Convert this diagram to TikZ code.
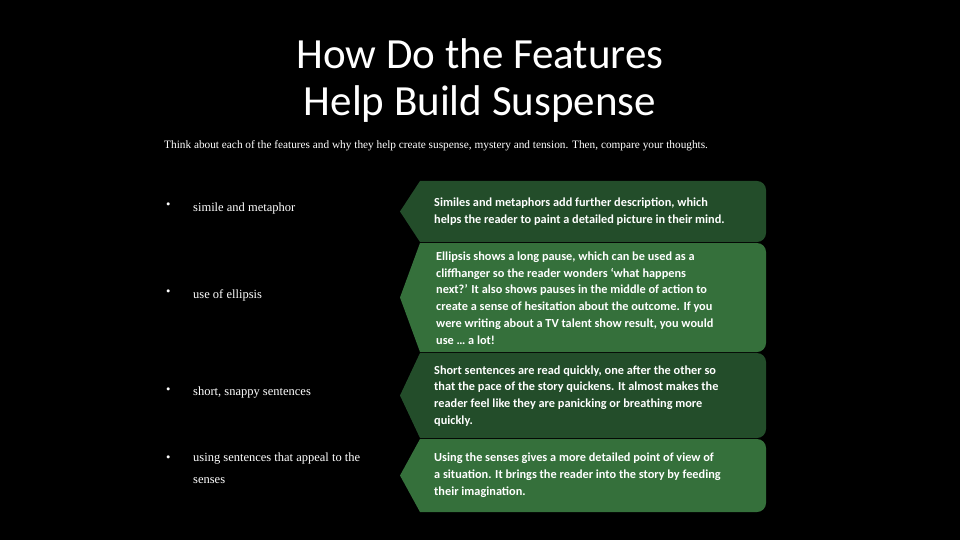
\documentclass[tikz,border=0pt]{standalone}
\usepackage{fontspec}
\setmainfont{Carlito}
\newfontfamily\serifx{Liberation Serif}
\definecolor{dg}{HTML}{234D2A}
\definecolor{lg}{HTML}{35703B}
\begin{document}
\begin{tikzpicture}[x=1pt,y=-1pt,
  boxtext/.style={anchor=west,align=left,text=white,font=\bfseries\fontsize{12.3}{16.8}\selectfont,inner sep=0pt},
  bul/.style={anchor=west,text=white,font=\serifx\fontsize{12.5}{22}\selectfont,inner sep=0pt,align=left}]
\fill[black] (0,0) rectangle (960,540);
\useasboundingbox (0,0) rectangle (960,540);
\node[text=white,font=\fontsize{43}{47}\selectfont,align=center] (title) at (480,81) {How Do the Features\\Help Build Suspense};
\node[text=white,font=\serifx\fontsize{11.3}{11}\selectfont,anchor=west,inner sep=0pt] (sub) at (164,146) {Think about each of the features and why they help create suspense, mystery and tension. Then, compare your thoughts.};
\def\shp#1#2#3{\fill[#1] (420,#2) [rounded corners=9pt] -- (766,#2) -- (766,#3) [sharp corners] -- (420,#3) -- (400,{(#2+#3)/2}) -- cycle;}
\shp{dg}{181}{242}
\shp{lg}{243}{352}
\shp{dg}{353}{438}
\shp{lg}{439}{512}
\node[boxtext] (t1) at (434,211.5) {Similes and metaphors add further description, which\\helps the reader to paint a detailed picture in their mind.};
\node[boxtext] (t2) at (436,298) {Ellipsis shows a long pause, which can be used as a\\cliffhanger so the reader wonders ‘what happens\\next?’ It also shows pauses in the middle of action to\\create a sense of hesitation about the outcome. If you\\were writing about a TV talent show result, you would\\use … a lot!};
\node[boxtext] (t3) at (434,396) {Short sentences are read quickly, one after the other so\\that the pace of the story quickens. It almost makes the\\reader feel like they are panicking or breathing more\\quickly.};
\node[boxtext] (t4) at (434,475) {Using the senses gives a more detailed point of view of\\a situation. It brings the reader into the story by feeding\\their imagination.};
\foreach \n/\y in {a/206,b/293,c/391,d/459}{\node[bul] (b\n) at (166,\y) {•};}
\node[bul] (l1) at (193,208) {simile and metaphor};
\node[bul] (l2) at (193,295) {use of ellipsis};
\node[bul] (l3) at (193,393) {short, snappy sentences};
\node[bul,anchor=north west] (l4) at (193,453) {using sentences that appeal to the\\senses};
\end{tikzpicture}
\end{document}
